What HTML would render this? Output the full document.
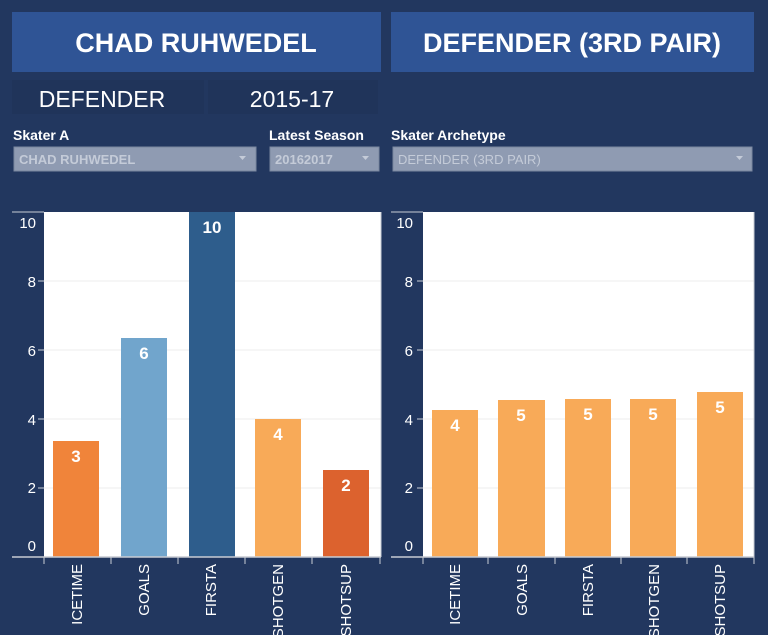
<!DOCTYPE html>
<html><head><style>
html,body{margin:0;padding:0;background:#22375f;}
svg{display:block;font-family:"Liberation Sans",sans-serif;}
</style></head><body>
<svg width="768" height="635" viewBox="0 0 768 635">
<rect width="768" height="635" fill="#22375f"/>
<!-- headers -->
<rect x="12" y="12" width="369" height="60" fill="#2f5495"/>
<text x="196" y="52" fill="#fff" font-size="27" font-weight="bold" text-anchor="middle">CHAD RUHWEDEL</text>
<rect x="391" y="12" width="363" height="60" fill="#2f5495"/>
<text x="572" y="52" fill="#fff" font-size="27" font-weight="bold" text-anchor="middle">DEFENDER (3RD PAIR)</text>
<rect x="12" y="80" width="192" height="34" fill="#20345a"/>
<rect x="208" y="80" width="170" height="34" fill="#20345a"/>
<text x="102" y="107" fill="#fff" font-size="23" text-anchor="middle">DEFENDER</text>
<text x="292" y="107" fill="#fff" font-size="23" text-anchor="middle">2015-17</text>
<!-- filters -->
<text x="13" y="140" fill="#fff" font-size="14" font-weight="bold">Skater A</text>
<text x="269" y="140" fill="#fff" font-size="14" font-weight="bold">Latest Season</text>
<text x="391" y="140" fill="#fff" font-size="14" font-weight="bold">Skater Archetype</text>
<rect x="14" y="147" width="242" height="24" fill="#8f9bb2" stroke="#7a879f"/>
<text x="19" y="164" fill="#c4cbd8" font-size="13" font-weight="bold">CHAD RUHWEDEL</text>
<path d="M239 156 l7 0 l-3.5 4z" fill="#c4cbd8"/>
<rect x="270" y="147" width="109" height="24" fill="#8f9bb2" stroke="#7a879f"/>
<text x="275" y="164" fill="#c4cbd8" font-size="13" font-weight="bold">20162017</text>
<path d="M362 156 l7 0 l-3.5 4z" fill="#c4cbd8"/>
<rect x="393" y="147" width="359" height="24" fill="#8f9bb2" stroke="#7a879f"/>
<text x="398" y="164" fill="#c4cbd8" font-size="13">DEFENDER (3RD PAIR)</text>
<path d="M736 156 l7 0 l-3.5 4z" fill="#c4cbd8"/>

<!-- left chart -->
<line x1="12" y1="212" x2="44" y2="212" stroke="#c8ccd4"/>
<rect x="44" y="212" width="337" height="345" fill="#fff"/>
<g stroke="#eeeeee"><line x1="44" y1="281" x2="381" y2="281"/><line x1="44" y1="350" x2="381" y2="350"/><line x1="44" y1="419" x2="381" y2="419"/><line x1="44" y1="488" x2="381" y2="488"/></g>
<g fill="#fff" font-size="15" text-anchor="end">
<text x="36" y="228">10</text><text x="36" y="287">8</text><text x="36" y="356">6</text><text x="36" y="425">4</text><text x="36" y="493">2</text><text x="36" y="551">0</text></g>
<g stroke="#c8ccd4"><line x1="38" y1="281" x2="44" y2="281"/><line x1="38" y1="350" x2="44" y2="350"/><line x1="38" y1="419" x2="44" y2="419"/><line x1="38" y1="488" x2="44" y2="488"/></g>
<rect x="53" y="441" width="46" height="116" fill="#f0843a"/>
<rect x="121" y="338" width="46" height="219" fill="#71a5cc"/>
<rect x="189" y="212" width="46" height="345" fill="#2e5d8c"/>
<rect x="255" y="419" width="46" height="138" fill="#f8aa58"/>
<rect x="323" y="470" width="46" height="87" fill="#dc622e"/>
<g fill="#fff" font-size="17" font-weight="bold" text-anchor="middle">
<text x="76" y="462">3</text><text x="144" y="359">6</text><text x="212" y="233">10</text><text x="278" y="440">4</text><text x="346" y="491">2</text></g>
<line x1="12" y1="557" x2="381" y2="557" stroke="#c8ccd4" stroke-width="1.5"/>
<line x1="381" y1="212" x2="381" y2="557" stroke="#c8ccd4"/>
<g stroke="#c8ccd4"><line x1="44" y1="557" x2="44" y2="564"/><line x1="111" y1="557" x2="111" y2="564"/><line x1="178" y1="557" x2="178" y2="564"/><line x1="245" y1="557" x2="245" y2="564"/><line x1="312" y1="557" x2="312" y2="564"/><line x1="380" y1="557" x2="380" y2="564"/></g>
<g fill="#fff" font-size="15" text-anchor="end">
<text transform="translate(82,564) rotate(-90)">ICETIME</text>
<text transform="translate(149,564) rotate(-90)">GOALS</text>
<text transform="translate(216,564) rotate(-90)">FIRSTA</text>
<text transform="translate(283,564) rotate(-90)">SHOTGEN</text>
<text transform="translate(351,564) rotate(-90)">SHOTSUP</text></g>

<!-- right chart -->
<line x1="391" y1="212" x2="423" y2="212" stroke="#c8ccd4"/>
<rect x="423" y="212" width="331" height="345" fill="#fff"/>
<g stroke="#eeeeee"><line x1="423" y1="281" x2="754" y2="281"/><line x1="423" y1="350" x2="754" y2="350"/><line x1="423" y1="419" x2="754" y2="419"/><line x1="423" y1="488" x2="754" y2="488"/></g>
<g fill="#fff" font-size="15" text-anchor="end">
<text x="413" y="228">10</text><text x="413" y="287">8</text><text x="413" y="356">6</text><text x="413" y="425">4</text><text x="413" y="493">2</text><text x="413" y="551">0</text></g>
<g stroke="#c8ccd4"><line x1="417" y1="281" x2="423" y2="281"/><line x1="417" y1="350" x2="423" y2="350"/><line x1="417" y1="419" x2="423" y2="419"/><line x1="417" y1="488" x2="423" y2="488"/></g>
<g fill="#f8aa58">
<rect x="432" y="410" width="46" height="147"/>
<rect x="498" y="400" width="47" height="157"/>
<rect x="565" y="399" width="46" height="158"/>
<rect x="630" y="399" width="46" height="158"/>
<rect x="697" y="392" width="46" height="165"/></g>
<g fill="#fff" font-size="17" font-weight="bold" text-anchor="middle">
<text x="455" y="431">4</text><text x="521" y="421">5</text><text x="588" y="420">5</text><text x="653" y="420">5</text><text x="720" y="413">5</text></g>
<line x1="391" y1="557" x2="754" y2="557" stroke="#c8ccd4" stroke-width="1.5"/>
<line x1="754" y1="212" x2="754" y2="557" stroke="#c8ccd4"/>
<g stroke="#c8ccd4"><line x1="423" y1="557" x2="423" y2="564"/><line x1="488" y1="557" x2="488" y2="564"/><line x1="555" y1="557" x2="555" y2="564"/><line x1="621" y1="557" x2="621" y2="564"/><line x1="687" y1="557" x2="687" y2="564"/><line x1="754" y1="557" x2="754" y2="564"/></g>
<g fill="#fff" font-size="15" text-anchor="end">
<text transform="translate(460,564) rotate(-90)">ICETIME</text>
<text transform="translate(527,564) rotate(-90)">GOALS</text>
<text transform="translate(593,564) rotate(-90)">FIRSTA</text>
<text transform="translate(659,564) rotate(-90)">SHOTGEN</text>
<text transform="translate(725,564) rotate(-90)">SHOTSUP</text></g>
</svg>
</body></html>
